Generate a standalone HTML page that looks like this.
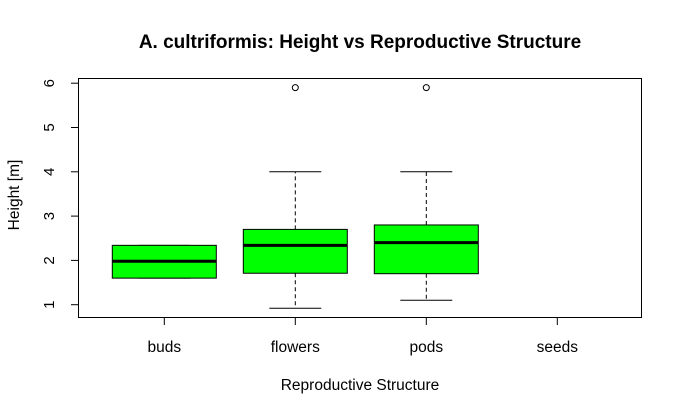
<!DOCTYPE html>
<html><head><meta charset="utf-8"><style>body{margin:0;background:#fff}svg{display:block;font-family:"Liberation Sans",Arial,sans-serif}</style></head>
<body>
<svg id="c" width="682" height="415">
<text x="360" y="48" text-anchor="middle" font-weight="bold" font-size="19">A. cultriformis: Height vs Reproductive Structure</text>
<text x="360" y="390" text-anchor="middle" font-size="15.5">Reproductive Structure</text>
<text transform="translate(19,195) rotate(-90)" text-anchor="middle" font-size="15.5">Height [m]</text>
<rect x="78.5" y="78.5" width="563" height="239" fill="none" stroke="#000" stroke-width="1"/>
<g id="marks"></g>
</svg>
<script>
const categories=["buds","flowers","pods","seeds"];
const q1=[1.6,1.71,1.7,null];
const medians=[1.98,2.34,2.4,null];
const q3=[2.34,2.7,2.8,null];
const whiskLo=[1.6,0.92,1.1,null];
const whiskHi=[2.34,4,4,null];
const outliers=[[],[5.9],[5.9],[]];
const yTicks=[1,2,3,4,5,6];
const NS="http://www.w3.org/2000/svg";
const g=document.getElementById('marks');
const xs=i=>164.3+i*131;
const ys=v=>304.7-(v-1)*44.3;
function mk(t,a){const e=document.createElementNS(NS,t);for(const k in a)e.setAttribute(k,a[k]);g.appendChild(e);return e;}
yTicks.forEach(t=>{
 const l=mk('line',{x1:71,x2:78.5,y1:ys(t),y2:ys(t),stroke:'#000'});
 
 
 const tx=mk('text',{transform:`translate(54,${ys(t)}) rotate(-90)`,'text-anchor':'middle','font-size':'15'});
 tx.textContent=t;
 
 
});
categories.forEach((c,i)=>{
 const x=xs(i);
 const tk=mk('line',{x1:x,x2:x,y1:317.5,y2:325,stroke:'#000'});
 
 
 const tl=mk('text',{x:x,y:352,'text-anchor':'middle','font-size':'15.5'});
 tl.textContent=c;
 
 
 if(q1[i]===null)return;
 const w1=mk('line',{x1:x,x2:x,y1:ys(q3[i]),y2:ys(whiskHi[i]),stroke:'#000','stroke-dasharray':'4,3'});
 
 
 const w2=mk('line',{x1:x,x2:x,y1:ys(q1[i]),y2:ys(whiskLo[i]),stroke:'#000','stroke-dasharray':'4,3'});
 
 
 [whiskHi[i],whiskLo[i]].forEach(v=>{
  const cp=mk('line',{x1:x-26,x2:x+26,y1:ys(v),y2:ys(v),stroke:'#000'});
  
  
 });
 const b=mk('rect',{x:x-52,y:ys(q3[i]),width:104,height:ys(q1[i])-ys(q3[i]),fill:'#00ff00',stroke:'#000'});
 
 
 const m=mk('line',{x1:x-52,x2:x+52,y1:ys(medians[i]),y2:ys(medians[i]),stroke:'#000','stroke-width':3});
 
 
 outliers[i].forEach(v=>{
  const o=mk('circle',{cx:x,cy:ys(v),r:3,fill:'none',stroke:'#000'});
  
  
 });
});
</script>
</body></html>
